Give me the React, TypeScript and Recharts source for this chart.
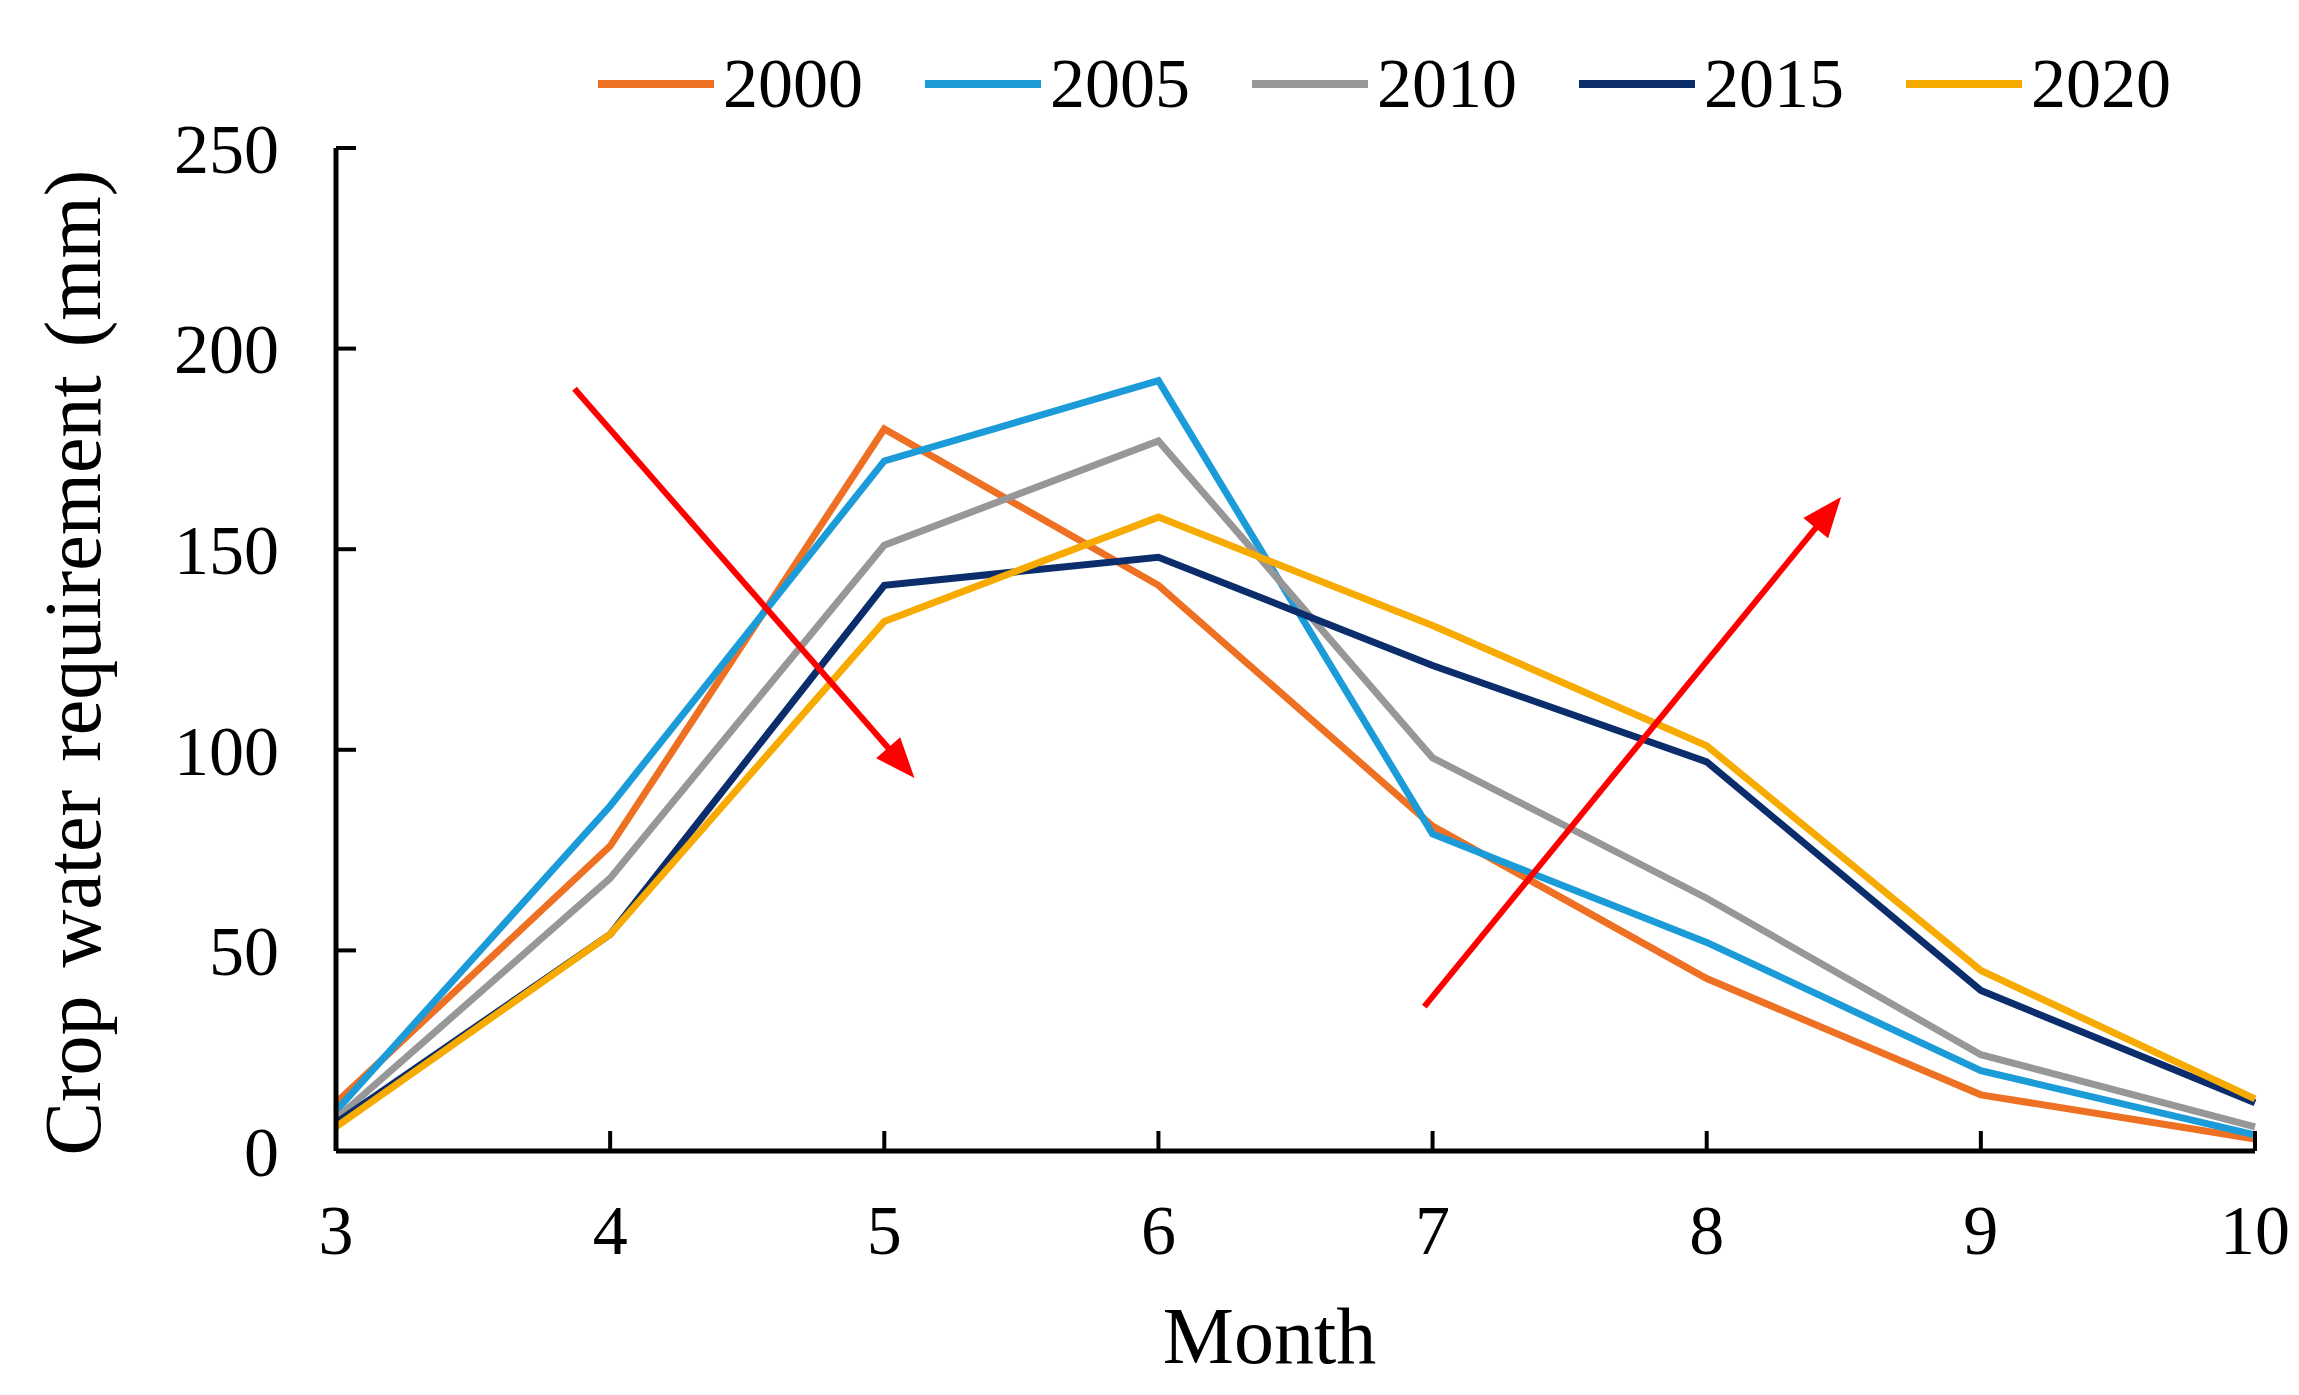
import React from "react";
import { Legend, Line, LineChart, ReferenceLine, XAxis, YAxis } from "recharts";

// months on the x axis
const months = [3, 4, 5, 6, 7, 8, 9, 10];

// crop water requirement (mm) per year
const y2000 = [12, 76, 180, 141, 81, 43, 14, 3];
const y2005 = [10, 86, 172, 192, 79, 52, 20, 4];
const y2010 = [8, 68, 151, 177, 98, 63, 24, 6];
const y2015 = [7, 54, 141, 148, 121, 97, 40, 12];
const y2020 = [6, 54, 132, 158, 131, 101, 45, 13];

const yTicks = [0, 50, 100, 150, 200, 250];

const series = [
  { key: "2000", values: y2000, color: "#EE7023" },
  { key: "2005", values: y2005, color: "#1B9BD8" },
  { key: "2010", values: y2010, color: "#979797" },
  { key: "2015", values: y2015, color: "#0B2D6B" },
  { key: "2020", values: y2020, color: "#F7AA00" },
];

// trend arrows: start and end in data units
const arrowDown = [
  { x: 3.87, y: 190 },
  { x: 5.11, y: 93 },
];
const arrowUp = [
  { x: 6.97, y: 36 },
  { x: 8.49, y: 163 },
];

const data = months.map((m, i) => {
  const row: Record<string, number> = { month: m };
  series.forEach((s) => {
    row[s.key] = s.values[i];
  });
  return row;
});

const FONT = "'Liberation Serif', 'Times New Roman', serif";

function Arrow(props: any) {
  const { x1, y1, x2, y2 } = props;
  const dx = x2 - x1;
  const dy = y2 - y1;
  const len = Math.sqrt(dx * dx + dy * dy);
  const ux = dx / len;
  const uy = dy / len;
  const head = 40;
  const half = 16;
  const bx = x2 - ux * head;
  const by = y2 - uy * head;
  const pts = [
    `${x2},${y2}`,
    `${bx - uy * half},${by + ux * half}`,
    `${bx + uy * half},${by - ux * half}`,
  ].join(" ");
  return (
    <g>
      <line x1={x1} y1={y1} x2={bx + ux * 4} y2={by + uy * 4} stroke="#FF0000" strokeWidth={6} />
      <polygon points={pts} fill="#FF0000" />
    </g>
  );
}

function LegendContent() {
  return (
    <div style={{ display: "flex", alignItems: "center", fontFamily: FONT, fontSize: 70, lineHeight: "80px" }}>
      {series.map((s) => (
        <div key={s.key} style={{ display: "flex", alignItems: "center", marginRight: 62 }}>
          <span style={{ display: "inline-block", width: 116, height: 8, background: s.color, marginRight: 9 }} />
          <span style={{ color: "#000" }}>{s.key}</span>
        </div>
      ))}
    </div>
  );
}

function YLabel(props: any) {
  const vb = props.viewBox || {};
  const cx = 92;
  const cy = vb.y + vb.height / 2 + 13;
  return (
    <text
      x={cx}
      y={cy}
      transform={`rotate(-90, ${cx}, ${cy})`}
      textAnchor="middle"
      fontFamily={FONT}
      fontSize={80}
      fill="#000"
      wordSpacing={8}
    >
      Crop water requirement (mm)
    </text>
  );
}

export default function App() {
  const tickStyle = { fill: "#000", fontFamily: FONT, fontSize: 70 };
  return (
    <div style={{ background: "#fff", width: 2283, height: 1379 }}>
      <LineChart
        width={2283}
        height={1379}
        data={data}
        margin={{ top: 140, right: 36, bottom: 0, left: 0 }}
      >
        <XAxis
          dataKey="month"
          type="number"
          domain={[3, 10]}
          ticks={months}
          height={236}
          stroke="#000"
          axisLine={{ stroke: "#000", strokeWidth: 5 }}
          tickLine={{ stroke: "#000", strokeWidth: 4 }}
          tickSize={-20}
          tickMargin={73}
          tick={tickStyle}
          interval={0}
          label={{
            value: "Month",
            position: "insideBottom",
            offset: 24,
            dx: -26,
            fill: "#000",
            fontFamily: FONT,
            fontSize: 80,
          }}
        />
        <YAxis
          type="number"
          domain={[0, 250]}
          ticks={yTicks}
          width={328}
          stroke="#000"
          axisLine={{ stroke: "#000", strokeWidth: 5 }}
          tickLine={{ stroke: "#000", strokeWidth: 4 }}
          tickSize={-20}
          tickMargin={77}
          tick={tickStyle}
          interval={0}
          label={{ content: <YLabel /> }}
        />
        <Legend
          layout="horizontal"
          verticalAlign="middle"
          align="center"
          content={<LegendContent />}
          wrapperStyle={{ left: 590, top: 36, width: 1700, height: 80 }}
        />
        {series.map((s) => (
          <Line
            key={s.key}
            type="linear"
            dataKey={s.key}
            stroke={s.color}
            strokeWidth={7}
            dot={false}
            activeDot={false}
            isAnimationActive={false}
          />
        ))}
        <ReferenceLine segment={arrowDown} shape={<Arrow />} />
        <ReferenceLine segment={arrowUp} shape={<Arrow />} />
      </LineChart>
    </div>
  );
}
